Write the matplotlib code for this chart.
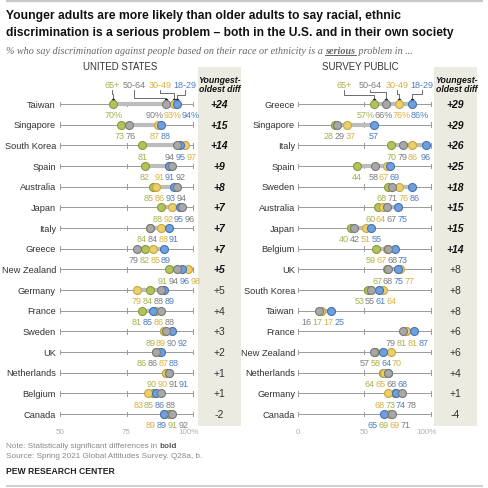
import matplotlib
matplotlib.use("Agg")
import matplotlib.pyplot as plt
from matplotlib.patches import Rectangle

# ---------------- data ----------------
us_countries = ["Taiwan", "Singapore", "South Korea", "Spain", "Australia", "Japan", "Italy",
                "Greece", "New Zealand", "Germany", "France", "Sweden", "UK", "Netherlands",
                "Belgium", "Canada"]
us_18_29 = [94, 88, 95, 91, 93, 95, 91, 89, 96, 89, 85, 92, 88, 91, 86, 89]
us_30_49 = [93, 87, 97, 91, 86, 92, 88, 85, 98, 79, 86, 89, 87, 90, 83, 89]
us_50_64 = [90, 76, 94, 92, 94, 96, 84, 79, 94, 88, 88, 90, 86, 91, 88, 92]
us_65p = [70, 73, 81, 82, 85, 88, 84, 82, 91, 84, 81, 89, 86, 90, 85, 91]
us_sig = [True] * 9 + [False] * 7

own_countries = ["Greece", "Singapore", "Italy", "Spain", "Sweden", "Australia", "Japan",
                 "Belgium", "UK", "South Korea", "Taiwan", "France", "New Zealand",
                 "Netherlands", "Germany", "Canada"]
own_18_29 = [86, 57, 96, 69, 86, 75, 55, 73, 75, 61, 25, 87, 64, 68, 74, 65]
own_30_49 = [76, 37, 86, 67, 76, 64, 51, 67, 77, 64, 17, 81, 70, 65, 68, 69]
own_50_64 = [66, 29, 79, 58, 71, 67, 42, 68, 68, 55, 16, 79, 57, 68, 78, 71]
own_65p = [57, 28, 70, 44, 68, 60, 40, 59, 67, 53, 17, 81, 58, 64, 73, 69]
own_sig = [True] * 8 + [False] * 8

group_names = ["65+", "50-64", "30-49", "18-29"]
us_ticks = [50, 75, 100]
own_ticks = [0, 50, 100]

# ---------------- style ----------------
W = H = 489
FONT = "Liberation Sans"
SERIF = "Liberation Serif"
fill = {"65+": "#b3c25a", "50-64": "#a8a8a8", "30-49": "#ebcf6c", "18-29": "#6f9fdc"}
edge = {"65+": "#8b9a3c", "50-64": "#7a7a7a", "30-49": "#c8a83e", "18-29": "#4472b4"}
txtc = {"65+": "#a6b14c", "50-64": "#7d7d7d", "30-49": "#d8b13f", "18-29": "#4d7fc2"}
draw_order = ["65+", "30-49", "18-29", "50-64"]
BEIGE = "#ecebe1"

ROW0, ROWSTEP = 105.0, (415.0 - 105.0) / 15.0

fig = plt.figure(figsize=(4.89, 4.89), dpi=100)
over = fig.add_axes([0, 0, 1, 1])
over.set_xlim(0, W)
over.set_ylim(H, 0)
over.axis("off")

renderer = fig.canvas.get_renderer()


def fit_text(x, y, s, target_w, **kw):
    t = over.text(x, y, s, **kw)
    w = t.get_window_extent(renderer).width
    t.set_fontsize(t.get_fontsize() * target_w / w)
    return t


# rules
over.plot([6, 483], [1.5, 1.5], color="#c8c8c8", lw=1.6, solid_capstyle="butt")
over.plot([6, 483], [487, 487], color="#c8c8c8", lw=1.2, solid_capstyle="butt")

# title
fit_text(6, 16, "Younger adults are more likely than older adults to say racial, ethnic", 394,
         fontsize=11, fontweight="bold", family=FONT, color="#111", va="center", ha="left")
fit_text(6, 33, "discrimination is a serious problem \u2013 both in the U.S. and in their own society", 447,
         fontsize=11, fontweight="bold", family=FONT, color="#111", va="center", ha="left")

# subtitle in pieces
sub_fs = 7.0
parts = [("% who say discrimination against people based on their race or ethnicity is a ", "normal"),
         ("serious", "bold"),
         (" problem in ...", "normal")]
texts = []
x = 6
for s, wgt in parts:
    t = over.text(x, 51, s, fontsize=sub_fs, family=SERIF, style="italic", fontweight=wgt,
                  color="#666", va="center", ha="left")
    texts.append(t)
    bb = t.get_window_extent(renderer)
    x += bb.width
total = x - 6
scale = 409.0 / total
x = 6
for t in texts:
    t.set_fontsize(sub_fs * scale)
    t.set_x(x)
    bb = t.get_window_extent(renderer)
    if t.get_fontweight() in ("bold", 700):
        over.plot([x, x + bb.width], [55.5, 55.5], color="#666", lw=0.7)
    x += bb.width

# panel titles
over.text(120, 67, "UNITED STATES", fontsize=6.9, family=FONT, color="#333", ha="center", va="center")
over.text(360, 67, "SURVEY PUBLIC", fontsize=6.9, family=FONT, color="#333", ha="center", va="center")

# beige boxes
for bx0, bx1 in [(198, 241), (434, 477)]:
    over.add_patch(Rectangle((bx0, 68), bx1 - bx0, 427 - 68, facecolor=BEIGE, edgecolor="none"))

# notes
tn = over.text(6, 447, "Note: Statistically significant differences in ", fontsize=5.9,
               family=FONT, color="#8a8a8a", va="center", ha="left")
wn = tn.get_window_extent(renderer).width
over.text(6 + wn, 447, "bold", fontsize=5.9, family=FONT, color="#555", fontweight="bold",
          va="center", ha="left")
over.text(6, 457, "Source: Spring 2021 Global Attitudes Survey. Q28a, b.", fontsize=5.9,
          family=FONT, color="#8a8a8a", va="center", ha="left")
over.text(6, 472, "PEW RESEARCH CENTER", fontsize=6.2, family=FONT, color="#222", fontweight="bold",
          va="center", ha="left")


def spread(xs, widths, pad=1.2, iters=400):
    p = list(xs)
    n = len(p)
    for _ in range(iters):
        moved = False
        for i in range(1, n):
            need = (widths[i] + widths[i - 1]) / 2 + pad
            d = p[i] - p[i - 1]
            if d < need - 1e-6:
                o = (need - d) / 2
                p[i - 1] -= o
                p[i] += o
                moved = True
        if not moved:
            break
    return p


def panel(px0, px1, xmin, xmax, countries, g1829, g3049, g5064, g65, sig, ticks,
          label_x, legend_cx, legend_mid, diff_cx, yd_cx):
    ax = fig.add_axes([px0 / W, 1 - (ROW0 + 15 * ROWSTEP) / H, (px1 - px0) / W, 15 * ROWSTEP / H])
    ax.set_xlim(xmin, xmax)
    ax.set_ylim(15, 0)
    ax.axis("off")
    ppu = (px1 - px0) / (xmax - xmin)
    rowpx = ROWSTEP
    vals = {"18-29": g1829, "30-49": g3049, "50-64": g5064, "65+": g65}
    n = len(countries)
    tick_h = 2.2 / rowpx
    for i in range(n):
        ax.plot([xmin, xmax], [i, i], color="#9a9a9a", lw=0.7, clip_on=False, zorder=1)
        for tk in ticks:
            ax.plot([tk, tk], [i - tick_h, i + tick_h], color="#9a9a9a", lw=0.7, clip_on=False, zorder=1)
        row = [vals[g][i] for g in group_names]
        ax.plot([min(row), max(row)], [i, i], color="#bdbdbd", lw=3.0, solid_capstyle="butt",
                clip_on=False, zorder=2)
        over.text(label_x, ROW0 + i * rowpx, countries[i], fontsize=6.7, family=FONT, color="#333",
                  ha="right", va="center")
        d = g1829[i] - g65[i]
        s = "%+d" % d if d != 0 else "0"
        if sig[i]:
            over.text(diff_cx, ROW0 + i * rowpx, s, fontsize=7.5, family=FONT, color="#111",
                      fontweight="bold", style="italic", ha="center", va="center")
        else:
            over.text(diff_cx, ROW0 + i * rowpx, s, fontsize=7.5, family=FONT, color="#333",
                      ha="center", va="center")
        items = sorted([(vals[g][i], group_names.index(g), g) for g in group_names])
        lab = []
        for v, _, g in items:
            s = "%d%%" % v if i == 0 else "%d" % v
            lab.append((v, g, s))
        xs = [(v - xmin) * ppu for v, g, s in lab]
        ws = [4.8 * (len(s) - ("%" in s)) + (7.0 if "%" in s else 0) for v, g, s in lab]
        pos = spread(xs, ws)
        for (v, g, s), p in zip(lab, pos):
            ax.text(xmin + p / ppu, i + 10.8 / rowpx, s, fontsize=6.5, family=FONT, color=txtc[g],
                    ha="center", va="center", clip_on=False)
    rows = list(range(n))
    for z, g in enumerate(draw_order):
        ax.scatter(vals[g], rows, s=33, color=fill[g], edgecolors=edge[g], linewidths=0.8,
                   zorder=3 + z, clip_on=False)
    for tk in ticks:
        s = "%d%%" % tk if tk == ticks[-1] else "%d" % tk
        off = -4.5 / ppu if tk == ticks[-1] else 0
        ax.text(tk + off, 15 + 18 / rowpx, s, fontsize=5.8, family=FONT, color="#b0b0b0",
                ha="center", va="center", clip_on=False)
    for g, cx, ym in zip(group_names, legend_cx, legend_mid):
        over.text(cx, 86, g, fontsize=6.5, family=FONT, color=txtc[g], ha="center", va="center")
        dx = px0 + (vals[g][0] - xmin) * ppu
        over.plot([cx, cx, dx, dx], [91, ym, ym, 101], color="#555", lw=0.6, zorder=5)
        over.plot([dx], [101], marker="o", ms=1.6, color="#222", zorder=5)
    over.text(yd_cx, 80.5, "Youngest-", fontsize=6.3, family=FONT, fontweight="bold", style="italic",
              color="#111", ha="center", va="center")
    over.text(yd_cx, 90, "oldest diff", fontsize=6.3, family=FONT, fontweight="bold", style="italic",
              color="#111", ha="center", va="center")
    return ax


panel(60, 193, 50, 100, us_countries, us_18_29, us_30_49, us_50_64, us_65p, us_sig, us_ticks,
      56, [112, 134, 160, 185], [95, 99, 94, 96], 219.5, 219.5)
panel(298, 431, 0, 100, own_countries, own_18_29, own_30_49, own_50_64, own_65p, own_sig, own_ticks,
      295, [344, 370, 397, 422], [96, 93, 95, 95], 455.5, 456.5)

fig.savefig("out.png", dpi=100)
